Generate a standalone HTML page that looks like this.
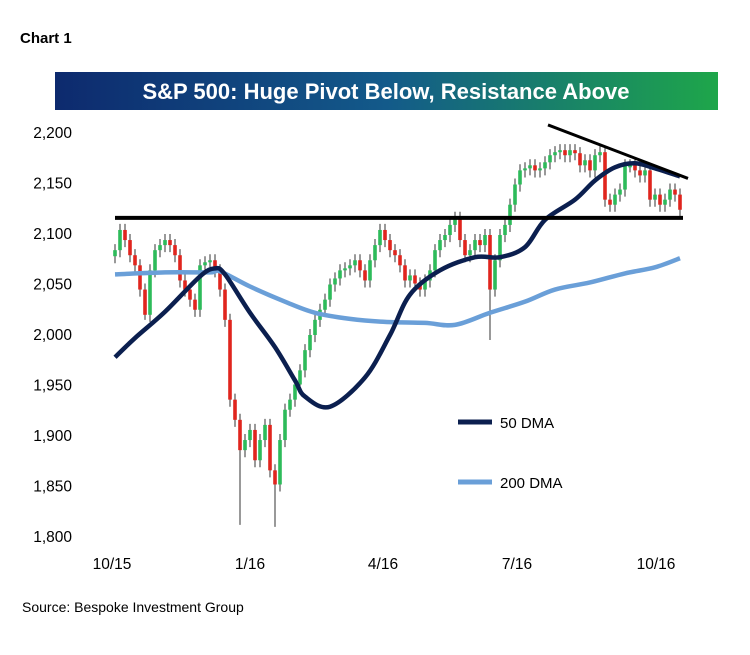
<!DOCTYPE html>
<html><head><meta charset="utf-8"><style>
body{margin:0;background:#fff;width:750px;height:650px;overflow:hidden;font-family:"Liberation Sans",sans-serif}
</style></head><body>
<svg width="750" height="650" id="svg" xmlns="http://www.w3.org/2000/svg">
<defs><linearGradient id="g" x1="0" x2="1"><stop offset="0" stop-color="#0d2a6e"/><stop offset="0.5" stop-color="#135a8a"/><stop offset="1" stop-color="#1ea64a"/></linearGradient></defs>
<text x="20" y="43" font-size="15" font-weight="bold">Chart 1</text>
<rect x="55" y="72" width="663" height="38" fill="url(#g)"/>
<text x="386" y="99" font-size="22" font-weight="bold" fill="#fff" text-anchor="middle">S&amp;P 500: Huge Pivot Below, Resistance Above</text>
<text x="22" y="612" font-size="14">Source: Bespoke Investment Group</text>
<g id="plot"></g>
<line x1="458" y1="422" x2="492" y2="422" stroke="#0b1f4f" stroke-width="5"/>
<text x="500" y="428" font-size="15">50 DMA</text>
<line x1="458" y1="482" x2="492" y2="482" stroke="#6a9fd8" stroke-width="5"/>
<text x="500" y="488" font-size="15">200 DMA</text>
</svg>
<script>
const closes=[2084,2104,2094,2079,2069,2045,2020,2064,2084,2089,2094,2089,2079,2054,2045,2035,2025,2069,2072,2074,2064,2045,2015,1936,1916,1886,1896,1906,1876,1896,1911,1866,1852,1896,1926,1936,1951,1965,1985,2000,2015,2025,2035,2050,2056,2064,2066,2069,2074,2064,2054,2074,2089,2104,2094,2084,2079,2069,2054,2059,2051,2045,2054,2064,2084,2094,2099,2109,2116,2094,2079,2084,2094,2089,2099,2045,2074,2099,2109,2129,2149,2163,2165,2168,2163,2165,2171,2178,2181,2183,2178,2183,2180,2168,2173,2163,2178,2181,2134,2129,2139,2144,2168,2168,2163,2158,2163,2134,2139,2129,2134,2144,2139,2124];
const lowIdx=[25,32,75,6];
const lowVal=[1812,1810,1995,2015];
const dma50Idx=[0,4,10,17,20,22,27,32,36,38,43,50,55,59,65,72,77,82,86,92,96,100,104,108,113];
const dma50Val=[1978,1997,2023,2058,2066,2060,2022,1988,1955,1939,1929,1958,2000,2040,2064,2077,2077,2087,2114,2134,2153,2166,2170,2165,2157];
const dma200Idx=[0,10,19,21,27,34,40,47,54,62,68,75,82,88,95,102,108,113];
const dma200Val=[2060,2062,2062,2063,2048,2033,2022,2016,2013,2012,2010,2022,2033,2045,2052,2061,2067,2076];
const yTicks=[2200,2150,2100,2050,2000,1950,1900,1850,1800];
const xTickLabels=["10/15","1/16","4/16","7/16","10/16"];
const xTickIdx=[-0.6,27,53.6,80.4,108.2];
const resistance=2116;
const trendStart=[86.6,2208],trendEnd=[114.6,2155];

const NS="http://www.w3.org/2000/svg";
const plot=document.getElementById('plot');
const X=i=>115+i*5, Y=v=>133+(2200-v)*1.01;
function mk(t,a){const e=document.createElementNS(NS,t);for(const k in a)e.setAttribute(k,a[k]);plot.appendChild(e);return e;}
yTicks.forEach(v=>{const t=mk('text',{x:72,y:Y(v)+5,'font-size':15.5,'text-anchor':'end'});t.textContent=v.toLocaleString('en-US');

});
xTickLabels.forEach((l,k)=>{const t=mk('text',{x:X(xTickIdx[k]),y:569,'font-size':15.5,'text-anchor':'middle'});t.textContent=l;

});
closes.forEach((c,i)=>{const o=i?closes[i-1]:c-6;let lo=Math.min(o,c)-7;const hi=Math.max(o,c)+6;
const k=lowIdx.indexOf(i);if(k>=0)lo=lowVal[k];
const col=c>=o?'#2dbb5a':'#e0251e';
const w=mk('line',{x1:X(i),x2:X(i),y1:Y(hi),y2:Y(lo),stroke:'#333','stroke-width':1});


const b=mk('rect',{x:X(i)-1.8,y:Y(Math.max(o,c)),width:3.6,height:Math.max(2,Math.abs(o-c)*1.01),fill:col});

});
function smooth(pts){let d='M'+pts[0][0]+','+pts[0][1];
for(let i=0;i<pts.length-1;i++){const p0=pts[Math.max(0,i-1)],p1=pts[i],p2=pts[i+1],p3=pts[Math.min(pts.length-1,i+2)];
d+=' C'+(p1[0]+(p2[0]-p0[0])/6)+','+(p1[1]+(p2[1]-p0[1])/6)+' '+(p2[0]-(p3[0]-p1[0])/6)+','+(p2[1]-(p3[1]-p1[1])/6)+' '+p2[0]+','+p2[1];}
return d;}
function line(idx,val,col,name){const p=mk('path',{d:smooth(idx.map((i,k)=>[X(i),Y(val[k])])),fill:'none',stroke:col,'stroke-width':4.5,'stroke-linejoin':'round'});

}
line(dma200Idx,dma200Val,'#6a9fd8','dma-200-line');
line(dma50Idx,dma50Val,'#0b1f4f','dma-50-line');
const r=mk('line',{x1:X(0),x2:X(113.6),y1:Y(resistance),y2:Y(resistance),stroke:'#000','stroke-width':4});


const tl=mk('line',{x1:X(trendStart[0]),y1:Y(trendStart[1]),x2:X(trendEnd[0]),y2:Y(trendEnd[1]),stroke:'#000','stroke-width':3});


</script>
</body></html>
